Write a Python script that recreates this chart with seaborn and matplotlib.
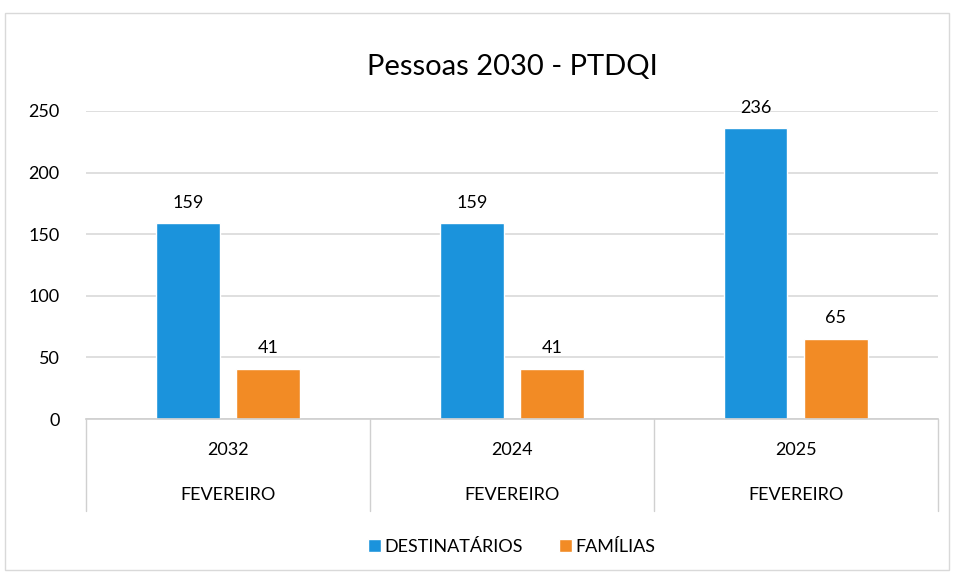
import pandas as pd
import seaborn as sns
import matplotlib.pyplot as plt
from matplotlib.patches import Rectangle

# data
anos = ["2032", "2024", "2025"]
mes = ["FEVEREIRO", "FEVEREIRO", "FEVEREIRO"]
destinatarios = [159, 159, 236]
familias = [41, 41, 65]
series = ["DESTINATÁRIOS", "FAMÍLIAS"]
cores = ["#1b93dc", "#f28b25"]

df = pd.DataFrame({
    "periodo": anos * 2,
    "serie": [series[0]] * 3 + [series[1]] * 3,
    "valor": destinatarios + familias,
})

sns.set_theme(style="white")
plt.rcParams["font.family"] = ["Lato", "DejaVu Sans"]
plt.rcParams["text.color"] = "black"
plt.rcParams["ytick.color"] = "black"
plt.rcParams["axes.titlecolor"] = "black"

fig = plt.figure(figsize=(9.56, 5.78), dpi=100)
ax = fig.add_axes([0.09, 0.275, 0.891, 0.533])

sns.barplot(data=df, x="periodo", y="valor", hue="serie", order=anos,
            hue_order=series, palette=cores, width=0.565, gap=0.21,
            saturation=1, ax=ax, legend=True)

ax.set_ylim(0, 250)
ax.set_xlim(-0.5, 2.5)
ax.set_yticks(range(0, 251, 50))
ax.yaxis.grid(True, color="#d9d9d9", linewidth=1.2)
ax.set_axisbelow(True)
for s in ["top", "right", "left"]:
    ax.spines[s].set_visible(False)
ax.spines["bottom"].set_color("#d0d0d0")
ax.tick_params(axis="y", labelsize=13, length=0, pad=19)
ax.set_xticks([])
ax.set_xlabel("")
ax.set_ylabel("")

# bar values
for c in ax.containers:
    ax.bar_label(c, padding=9, fontsize=13)

# two-level category axis
tr = ax.get_xaxis_transform()
for i in range(len(anos)):
    ax.text(i, -0.1, anos[i], transform=tr, ha="center", va="center", fontsize=13)
    ax.text(i, -0.245, mes[i], transform=tr, ha="center", va="center", fontsize=13)
for x in [-0.5, 0.5, 1.5, 2.5]:
    ax.plot([x, x], [0, -0.3], transform=tr, color="#d0d0d0", lw=1, clip_on=False)

ax.set_title("Pessoas 2030 - PTDQI", fontsize=21, pad=26)

leg = ax.legend(loc="center", bbox_to_anchor=(0.5, -0.415), ncol=2, frameon=False,
                fontsize=13, handlelength=0.7, handleheight=0.7, columnspacing=2.0,
                handletextpad=0.2)

fig.patches.append(Rectangle((0.005, 0.013), 0.988, 0.965, transform=fig.transFigure,
                             fill=False, edgecolor="#d9d9d9", lw=1))

fig.savefig("out.png", dpi=100)
